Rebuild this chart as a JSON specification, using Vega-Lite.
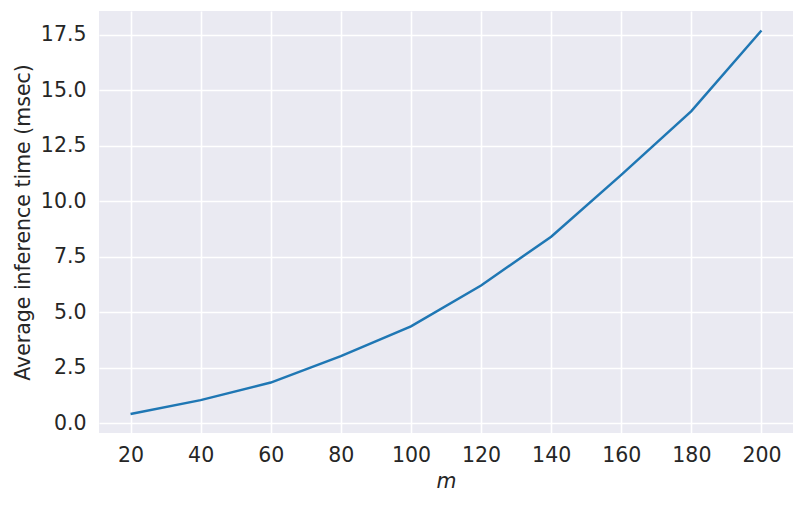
{
  "$schema": "https://vega.github.io/schema/vega-lite/v6.json",
  "autosize": "none",
  "width": 694,
  "height": 422,
  "padding": {"left": 99, "top": 11, "right": 12, "bottom": 72},
  "background": "white",
  "config": {
    "font": "DejaVu Sans",
    "view": {"fill": "#EAEAF2", "stroke": null},
    "axis": {
      "domain": false,
      "ticks": false,
      "grid": true,
      "gridColor": "white",
      "gridWidth": 1.6,
      "labelFont": "DejaVu Sans",
      "labelFontSize": 20.5,
      "labelColor": "#262626",
      "titleFont": "DejaVu Sans",
      "titleFontSize": 20.5,
      "titleColor": "#262626",
      "titleFontWeight": "normal"
    }
  },
  "data": {
    "values": [
      {"m": 20, "t": 0.42},
      {"m": 40, "t": 1.04},
      {"m": 60, "t": 1.83},
      {"m": 80, "t": 3.02},
      {"m": 100, "t": 4.36},
      {"m": 120, "t": 6.2},
      {"m": 140, "t": 8.4},
      {"m": 160, "t": 11.18},
      {"m": 180, "t": 14.05},
      {"m": 200, "t": 17.68}
    ]
  },
  "mark": {"type": "line", "color": "#1f77b4", "strokeWidth": 2.5, "clip": true},
  "encoding": {
    "x": {
      "field": "m",
      "type": "quantitative",
      "scale": {"domain": [11, 209], "nice": false, "zero": false},
      "axis": {
        "values": [20, 40, 60, 80, 100, 120, 140, 160, 180, 200],
        "title": "m",
        "titleFontStyle": "italic",
        "labelPadding": 12,
        "titlePadding": 6,
        "labelFlush": false
      }
    },
    "y": {
      "field": "t",
      "type": "quantitative",
      "scale": {"domain": [-0.44, 18.56], "nice": false, "zero": false},
      "axis": {
        "values": [0, 2.5, 5, 7.5, 10, 12.5, 15, 17.5],
        "format": ".1f",
        "title": "Average inference time (msec)",
        "labelPadding": 13,
        "titlePadding": 7,
        "labelFlush": false
      }
    }
  }
}
